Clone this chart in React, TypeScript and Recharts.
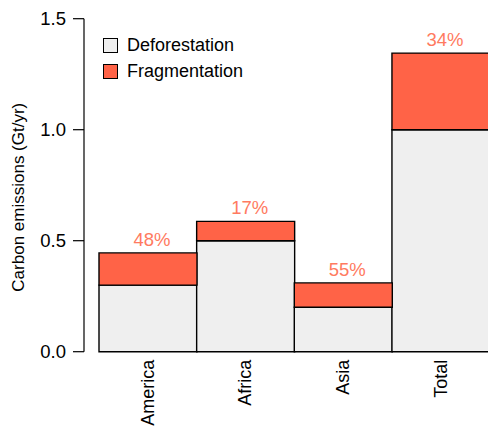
import { BarChart, Bar, XAxis, YAxis, LabelList } from 'recharts';

const regions = ['America', 'Africa', 'Asia', 'Total'];
const deforestation = [0.3, 0.5, 0.2, 1.0];
const fragmentation = [0.145, 0.087, 0.11, 0.345];
const shareLabels = ['48%', '17%', '55%', '34%'];
const yTicks = [0, 0.5, 1, 1.5];

const FONT = '"Liberation Sans", Arial, Helvetica, sans-serif';
const DEF_COLOR = '#EFEFEF';
const FRAG_COLOR = '#FF6347';
const PCT_COLOR = '#FF7A60';

const data = regions.map((name, i) => ({
  name,
  deforestation: deforestation[i],
  fragmentation: fragmentation[i],
  share: shareLabels[i],
}));

function RegionTick(props: any) {
  const { x, y, payload } = props;
  return (
    <text
      x={x}
      y={y}
      transform={`rotate(-90, ${x}, ${y})`}
      textAnchor="end"
      dominantBaseline="central"
      fontSize={18}
      fontFamily={FONT}
      fill="#000"
    >
      {payload.value}
    </text>
  );
}

function YTitle(props: any) {
  const { viewBox } = props;
  const cy = viewBox ? viewBox.y + viewBox.height / 2 + 12 : 197;
  return (
    <text
      x={19}
      y={cy}
      transform={`rotate(-90, 19, ${cy})`}
      textAnchor="middle"
      dominantBaseline="central"
      fontSize={17}
      fontFamily={FONT}
      fill="#000"
    >
      Carbon emissions (Gt/yr)
    </text>
  );
}

function LegendBox() {
  const items = [
    { label: 'Deforestation', color: DEF_COLOR },
    { label: 'Fragmentation', color: FRAG_COLOR },
  ];
  return (
    <div
      style={{
        position: 'absolute',
        left: 103,
        top: 32,
        fontFamily: FONT,
        fontSize: 18,
        color: '#000',
      }}
    >
      {items.map(item => (
        <div key={item.label} style={{ display: 'flex', alignItems: 'center', height: 26.5 }}>
          <span
            style={{
              width: 13,
              height: 13,
              background: item.color,
              border: '1px solid #000',
              marginRight: 9,
              display: 'inline-block',
            }}
          />
          <span>{item.label}</span>
        </div>
      ))}
    </div>
  );
}

export default function App() {
  return (
    <div style={{ position: 'absolute', left: 0, top: 0, width: 490, height: 426 }}>
      <BarChart
        width={490}
        height={426}
        data={data}
        barCategoryGap={0}
        margin={{ top: 18.7, right: 0.4, bottom: 0, left: 0 }}
      >
        <XAxis
          dataKey="name"
          axisLine={false}
          tickLine={false}
          height={74.3}
          padding={{ left: 15, right: 0 }}
          tick={<RegionTick />}
          tickMargin={2}
          interval={0}
        />
        <YAxis
          width={84}
          domain={[0, 1.5]}
          ticks={yTicks}
          tickFormatter={(v: number) => v.toFixed(1)}
          tickSize={11}
          tickMargin={7}
          stroke="#000"
          tick={{ fill: '#000', fontSize: 18.5, fontFamily: FONT }}
          axisLine={{ stroke: '#000', strokeWidth: 1.2 }}
          tickLine={{ stroke: '#000', strokeWidth: 1.2 }}
          label={<YTitle />}
        />
        <Bar
          dataKey="deforestation"
          name="Deforestation"
          stackId="a"
          fill={DEF_COLOR}
          stroke="#000"
          strokeWidth={1.4}
          isAnimationActive={false}
        />
        <Bar
          dataKey="fragmentation"
          name="Fragmentation"
          stackId="a"
          fill={FRAG_COLOR}
          stroke="#000"
          strokeWidth={1.4}
          isAnimationActive={false}
        >
          <LabelList
            dataKey="share"
            position="top"
            offset={7}
            dx={4}
            fill={PCT_COLOR}
            fontSize={18.5}
            fontFamily={FONT}
          />
        </Bar>
      </BarChart>
      <LegendBox />
    </div>
  );
}
